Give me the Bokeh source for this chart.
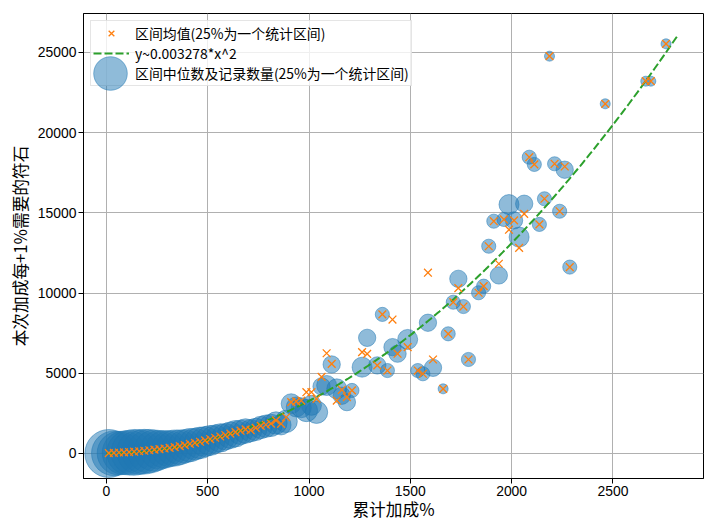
import numpy as np
from bokeh.plotting import figure
from bokeh.models import ColumnDataSource, Range1d, FixedTicker, Legend, LegendItem
from bokeh.embed import file_html
from bokeh.resources import INLINE

# ---- data ----
bin_x = [12, 37, 62, 87, 112, 137, 162, 187, 212, 237, 262, 287, 312, 337, 362,
         387, 412, 437, 462, 487, 512, 537, 562, 587, 612, 637, 662, 687, 712, 737,
         762, 787, 812, 837, 862, 887, 912, 937, 962, 987, 1012, 1037,
         1062, 1087, 1112, 1137, 1162, 1187, 1212, 1262, 1287, 1337, 1362, 1387,
         1412, 1437, 1487, 1537, 1562, 1587, 1612, 1662, 1687, 1712, 1737, 1762,
         1787, 1837, 1862, 1887, 1912, 1937, 1962, 1987, 2012, 2037, 2062, 2087,
         2112, 2137, 2162, 2187, 2212, 2237, 2262, 2287, 2462, 2662, 2687, 2762]
mean_y = [20, 40, 60, 70, 90, 110, 140, 170, 200, 240, 270, 310, 350, 400, 460,
          520, 600, 660, 730, 820, 900, 980, 1060, 1150, 1240, 1330, 1420, 1500, 1460, 1600,
          1720, 1790, 1860, 2060, 1850, 2260, 3200, 3250, 3300, 3820, 3820, 3410,
          4780, 6250, 5590, 3300, 3970, 3510, 3930, 6320, 6210, 5490, 8670, 5170,
          8350, 6220, 6630, 5170, 4970, 11270, 5860, 4030, 7460, 9430, 10310, 9160,
          5860, 10020, 10430, 12920, 14480, 11830, 14590, 13950, 14530, 12820, 14940, 18470,
          18020, 14280, 15880, 24770, 18060, 15100, 17890, 11620, 21800, 23210, 23210, 25540]
median_y = [0, 10, 20, 40, 50, 70, 90, 110, 140, 180, 220, 260, 300, 340, 390,
            450, 520, 590, 660, 740, 810, 900, 970, 1050, 1140, 1230, 1320, 1400, 1420, 1500,
            1620, 1700, 1750, 1900, 1780, 2000, 3100, 2900, 2850, 2680, 3000, 2570,
            4180, 4240, 5550, 4030, 3600, 3200, 3930, 5380, 7210, 5490, 8670, 5170,
            6630, 6220, 7110, 5170, 4970, 8150, 5340, 4030, 7460, 9430, 10890, 9160,
            5860, 10020, 10430, 12920, 14480, 11100, 14590, 15520, 14530, 13490, 15570, 18470,
            18020, 14280, 15880, 24770, 18060, 15100, 17690, 11620, 21800, 23210, 23210, 25540]
counts = [23, 20, 19, 19, 20, 21, 20, 20, 19, 17, 15, 14, 13, 13, 12,
          11, 11, 10, 10, 9, 9, 8, 8, 7, 7, 7, 6, 6, 5, 5,
          5, 5, 5, 5, 4, 5, 4, 4, 4, 5, 4, 5,
          3, 4, 3, 4, 3, 3, 2, 4, 3, 3, 2, 2,
          3, 3, 4, 2, 2, 3, 3, 1, 2, 2, 3, 2,
          2, 2, 2, 2, 2, 3, 2, 4, 3, 4, 3, 2,
          2, 2, 2, 1, 2, 2, 3, 2, 1, 1, 1, 1]

fit_coef = 0.003278
fit_x_max = 2820

x_ticks = [0, 500, 1000, 1500, 2000, 2500]
y_ticks = [0, 5000, 10000, 15000, 20000, 25000]

label_mean = "区间均值(25%为一个统计区间)"
label_fit = "y~0.003278*x^2"
label_median = "区间中位数及记录数量(25%为一个统计区间)"
x_title = "累计加成%"
y_title = "本次加成每+1%需要的符石"

FONT = "Noto Sans CJK SC"
TICK_FONT = "Liberation Sans"
BLUE = "#1f77b4"
ORANGE = "#ff7f0e"
GREEN = "#2ca02c"

# ---- sources ----
src = ColumnDataSource(dict(
    x=bin_x, mean=mean_y, median=median_y,
    size=[10.0 * np.sqrt(c) for c in counts],
))
fx = np.linspace(0, fit_x_max, 200)
fit_src = ColumnDataSource(dict(x=fx, y=fit_coef * fx ** 2))

p = figure(
    frame_width=620, frame_height=465,
    x_range=Range1d(-113, 2947), y_range=Range1d(-1560, 27430),
    output_backend="svg", toolbar_location=None,
    min_border_left=83, min_border_right=6, min_border_top=13, min_border_bottom=36,
)
p.background_fill_color = "white"
p.border_fill_color = "white"
p.outline_line_color = "black"
p.outline_line_width = 1

med_r = p.scatter("x", "median", source=src, size="size", marker="circle",
                  fill_color=BLUE, fill_alpha=0.5, line_color=BLUE, line_alpha=0.5,
                  line_width=1)
fit_r = p.line("x", "y", source=fit_src, line_color=GREEN, line_width=2,
               line_dash="8 3")
mean_r = p.scatter("x", "mean", source=src, marker="x", size=11,
                   line_color=ORANGE, line_width=1.3)
dummy_r = p.scatter(x=[], y=[], marker="circle", size=1,
                    fill_alpha=0, line_alpha=0)

# axes
for ax in (p.xaxis[0], p.yaxis[0]):
    ax.major_label_text_font = TICK_FONT
    ax.major_label_text_font_size = "13.9px"
    ax.major_label_text_color = "black"
    ax.axis_label_text_font = FONT
    ax.axis_label_text_font_size = "16.7px"
    ax.axis_label_text_font_style = "normal"
    ax.axis_label_text_color = "black"
    ax.major_tick_out = 5
    ax.major_tick_in = 0
    ax.minor_tick_out = 0
    ax.minor_tick_in = 0
    ax.major_tick_line_color = "black"
    ax.axis_line_color = "black"
    ax.major_label_standoff = 2
p.xaxis.axis_label_standoff = -2
p.yaxis.axis_label_standoff = 3
p.xaxis.ticker = FixedTicker(ticks=x_ticks)
p.yaxis.ticker = FixedTicker(ticks=y_ticks)
p.xaxis.axis_label = x_title
p.yaxis.axis_label = y_title

p.xgrid.ticker = FixedTicker(ticks=x_ticks)
p.ygrid.ticker = FixedTicker(ticks=y_ticks)
p.grid.grid_line_color = "#b0b0b0"
p.grid.grid_line_width = 1

# main legend box
leg = Legend(items=[
    LegendItem(label=label_mean, renderers=[mean_r]),
    LegendItem(label=label_fit, renderers=[fit_r]),
    LegendItem(label=label_median, renderers=[dummy_r]),
], location="top_left")
leg.margin = 7
leg.padding = 2
leg.spacing = 0
leg.glyph_width = 36
leg.glyph_height = 20
leg.label_standoff = 6
leg.label_text_font = FONT
leg.label_text_font_size = "13.9px"
leg.label_text_color = "black"
leg.background_fill_color = "white"
leg.background_fill_alpha = 0.8
leg.border_line_color = "#cccccc"
leg.border_line_width = 1
p.add_layout(leg)

# large bubble symbol for the third legend entry
leg2 = Legend(items=[LegendItem(label=" ", renderers=[med_r])], location=(-15, 363))
leg2.margin = 0
leg2.padding = 0
leg2.glyph_width = 84
leg2.glyph_height = 84
leg2.label_standoff = 0
leg2.label_width = 0
leg2.background_fill_alpha = 0
leg2.border_line_alpha = 0
p.add_layout(leg2)

open("out.html", "w").write(file_html(p, INLINE))
